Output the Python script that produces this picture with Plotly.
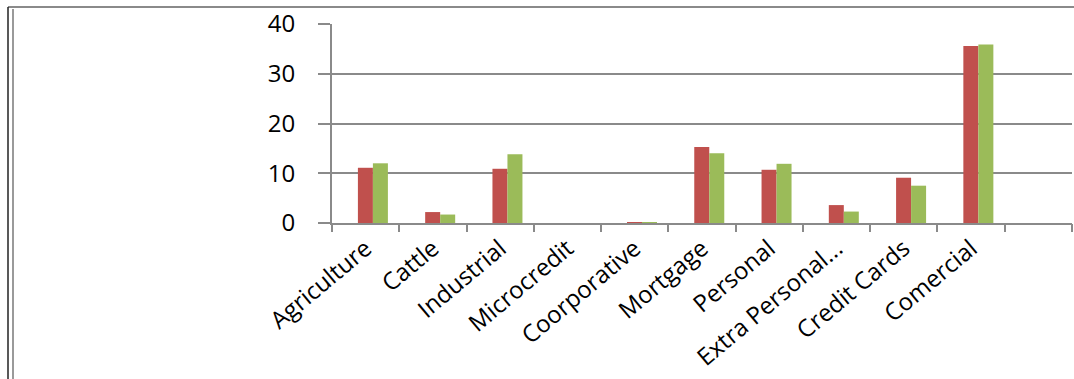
import plotly.graph_objects as go

categories = ["Agriculture", "Cattle", "Industrial", "Microcredit", "Coorporative",
              "Mortgage", "Personal", "Extra Personal...", "Credit Cards", "Comercial"]
series_red = [11.1, 2.2, 10.9, 0.0, 0.2, 15.3, 10.7, 3.6, 9.1, 35.6]
series_green = [12.0, 1.7, 13.8, 0.0, 0.2, 14.0, 11.9, 2.3, 7.5, 35.9]
y_ticks = [0, 10, 20, 30, 40]

W, H = 1074, 379
L, R, T, B = 332, 2, 24, 156
n_slots = len(categories) + 1
xpos = list(range(len(categories)))

fig = go.Figure()
fig.add_trace(go.Bar(x=xpos, y=series_red, width=0.223, offset=-0.115,
                     marker=dict(color="#C0504D", line=dict(width=0)), name="Series 1"))
fig.add_trace(go.Bar(x=xpos, y=series_green, width=0.223, offset=0.108,
                     marker=dict(color="#9BBB59", line=dict(width=0)), name="Series 2"))
# invisible trace to carry the boundary tick axis
fig.add_trace(go.Scatter(x=[-0.5], y=[0], xaxis="x2", mode="markers",
                         marker=dict(opacity=0), showlegend=False, hoverinfo="skip"))

grid = "#8A8A8A"
fig.update_layout(
    width=W, height=H,
    margin=dict(l=L, r=R, t=T, b=B, pad=0, autoexpand=False),
    paper_bgcolor="white", plot_bgcolor="white",
    showlegend=False,
    barmode="overlay",
    font=dict(family="Open Sans", color="#000000"),
    xaxis=dict(range=[-0.5, n_slots - 0.5], tickvals=xpos, ticktext=categories,
               tickangle=-40, ticks="", showgrid=False, zeroline=False, automargin=False,
               showline=True, linecolor=grid, linewidth=2,
               tickfont=dict(size=24, family="Open Sans", color="#000000")),
    xaxis2=dict(overlaying="x", matches="x", side="bottom", anchor="y", automargin=False,
                tickvals=[i - 0.5 for i in range(n_slots + 1)], showticklabels=False,
                ticks="outside", ticklen=8, tickwidth=2, tickcolor=grid,
                showgrid=False, zeroline=False, showline=False),
    yaxis=dict(range=[0, 40], tickvals=y_ticks, showgrid=True, gridcolor=grid, gridwidth=2,
               zeroline=False, showline=True, linecolor=grid, linewidth=2, automargin=False,
               ticks="outside", ticklen=12, tickwidth=2, tickcolor=grid,
               ticklabelstandoff=18,
               tickfont=dict(size=24, family="Open Sans", color="#000000")),
    shapes=[
        dict(type="line", xref="paper", yref="paper",
             x0=(8 - L) / (W - L - R), x1=(W - L) / (W - L - R),
             y0=1 + (T - 7) / (H - T - B), y1=1 + (T - 7) / (H - T - B),
             line=dict(color="#8A8A8A", width=2)),
        dict(type="line", xref="paper", yref="paper",
             x0=(8 - L) / (W - L - R), x1=(8 - L) / (W - L - R),
             y0=-(B) / (H - T - B), y1=1 + (T - 7) / (H - T - B),
             line=dict(color="#222222", width=1.5)),
        dict(type="line", xref="paper", yref="paper",
             x0=(13 - L) / (W - L - R), x1=(13 - L) / (W - L - R),
             y0=-(B) / (H - T - B), y1=1 + (T - 9) / (H - T - B),
             line=dict(color="#9A9A9A", width=2)),
    ],
)

fig.write_html("out.html")
